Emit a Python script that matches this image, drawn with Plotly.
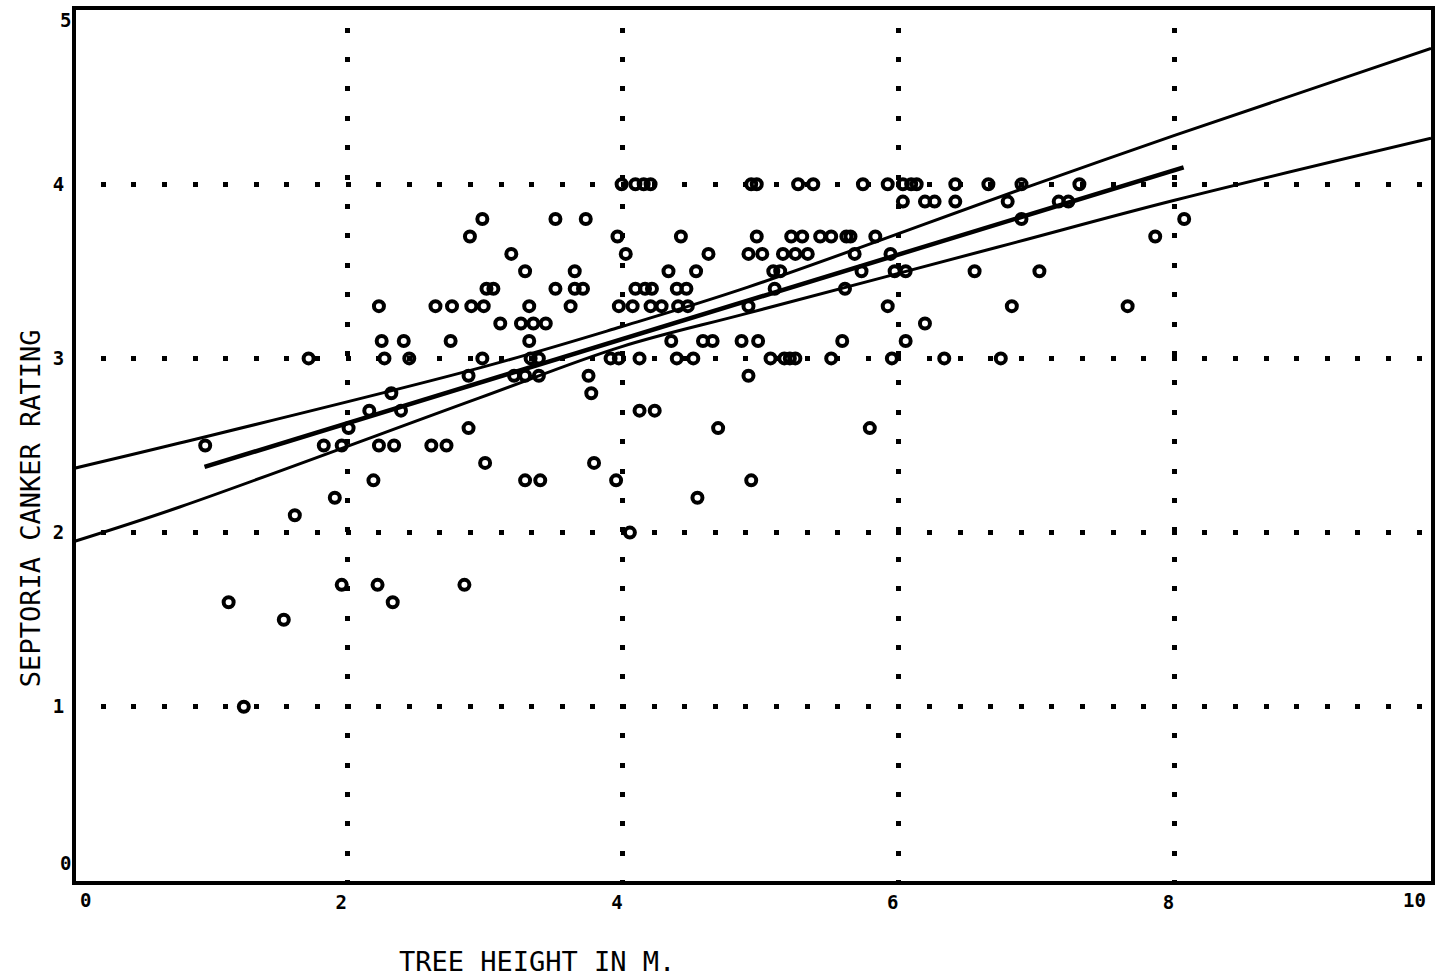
import plotly.graph_objects as go

# ---- data (tree height in m, grouped by canker rating) ----
h_40 = [3.99, 4.09, 4.15, 4.20, 4.93, 4.97, 5.27, 5.38, 5.74, 5.92, 6.03, 6.09, 6.13, 6.41, 6.65, 6.89, 7.31]
h_39 = [6.03, 6.19, 6.26, 6.41, 6.79, 7.16, 7.23]
h_38 = [2.98, 3.51, 3.73, 6.89, 8.07]
h_37 = [2.89, 3.96, 4.42, 4.97, 5.22, 5.30, 5.43, 5.51, 5.62, 5.65, 5.83, 7.86]
h_36 = [3.19, 4.02, 4.62, 4.91, 5.01, 5.16, 5.25, 5.34, 5.68, 5.94]
h_35 = [3.29, 3.65, 4.33, 4.53, 5.09, 5.14, 5.73, 5.97, 6.05, 6.55, 7.02]
h_34 = [3.01, 3.06, 3.51, 3.65, 3.71, 4.09, 4.16, 4.21, 4.39, 4.46, 5.10, 5.61]
h_33 = [2.23, 2.64, 2.76, 2.90, 2.99, 3.32, 3.62, 3.97, 4.07, 4.20, 4.28, 4.40, 4.47, 4.91, 5.92, 6.82, 7.66]
h_32 = [3.11, 3.26, 3.35, 3.44, 6.19]
h_31 = [2.25, 2.41, 2.75, 3.32, 4.35, 4.58, 4.65, 4.86, 4.98, 5.59, 6.05]
h_30 = [1.72, 2.27, 2.45, 2.98, 3.33, 3.39, 3.91, 3.97, 4.12, 4.39, 4.51, 5.07, 5.17, 5.21, 5.25, 5.51, 5.95, 6.33, 6.74]
h_29 = [2.88, 3.21, 3.29, 3.39, 3.75, 4.91]
h_28 = [2.32, 3.77]
h_27 = [2.16, 2.39, 4.12, 4.23]
h_26 = [2.01, 2.88, 4.69, 5.79]
h_25 = [0.97, 1.83, 1.96, 2.23, 2.34, 2.61, 2.72]
h_24 = [3.00, 3.79]
h_23 = [2.19, 3.29, 3.40, 3.95, 4.93]
h_22 = [1.91, 4.54]
h_21 = [1.62]
h_20 = [4.05]
h_17 = [1.96, 2.22, 2.85]
h_16 = [1.14, 2.33]
h_15 = [1.54]
h_10 = [1.25]

rows = [
    (4.0, h_40), (3.9, h_39), (3.8, h_38), (3.7, h_37), (3.6, h_36), (3.5, h_35),
    (3.4, h_34), (3.3, h_33), (3.2, h_32), (3.1, h_31), (3.0, h_30), (2.9, h_29),
    (2.8, h_28), (2.7, h_27), (2.6, h_26), (2.5, h_25), (2.4, h_24), (2.3, h_23),
    (2.2, h_22), (2.1, h_21), (2.0, h_20), (1.7, h_17), (1.6, h_16), (1.5, h_15),
    (1.0, h_10),
]

# regression line and confidence band
reg_x = [0.965, 8.066]
reg_y = [2.377, 4.097]
upper_x = [0.03, 0.785, 2.954, 3.98, 4.906, 6.93, 8.0, 9.86]
upper_y = [2.371, 2.514, 2.944, 3.18, 3.409, 3.983, 4.28, 4.78]
lower_x = [0.03, 0.785, 2.954, 3.98, 4.906, 6.714, 8.0, 9.86]
lower_y = [1.952, 2.147, 2.772, 3.065, 3.26, 3.638, 3.908, 4.264]

x_ticks = [2, 4, 6, 8]
y_ticks = [1, 2, 3, 4]

heights = [h for r, hs in rows for h in hs]
ratings = [r for r, hs in rows for h in hs]

MONO = "DejaVu Sans Mono"
TICKFONT = dict(family=MONO, size=19, color="black", weight="bold")

fig = go.Figure()
fig.add_trace(go.Scatter(
    x=heights, y=ratings, mode="markers",
    marker=dict(symbol="circle-open", size=10, color="black",
                line=dict(width=4, color="black")),
    hoverinfo="x+y",
))
fig.add_trace(go.Scatter(x=upper_x, y=upper_y, mode="lines",
                         line=dict(color="black", width=3, shape="spline")))
fig.add_trace(go.Scatter(x=lower_x, y=lower_y, mode="lines",
                         line=dict(color="black", width=3, shape="spline")))
fig.add_trace(go.Scatter(x=reg_x, y=reg_y, mode="lines",
                         line=dict(color="black", width=4.5)))

def edge_label(text, x, y):
    return dict(text=text, xref="paper", yref="paper", x=x, y=y,
                xanchor="center", yanchor="middle", showarrow=False, font=TICKFONT)

fig.update_layout(
    width=1437, height=979,
    margin=dict(l=76, r=2, t=10, b=98),
    plot_bgcolor="white", paper_bgcolor="white",
    showlegend=False,
    xaxis=dict(
        range=[0.033, 9.86], tickmode="array", tickvals=x_ticks,
        ticktext=[str(v) for v in x_ticks],
        showgrid=True, gridcolor="black", gridwidth=5,
        griddash="0px,17.5px,5px,6.9px",
        zeroline=False, showline=True, linewidth=4, linecolor="black", mirror=True,
        ticks="", ticklabelstandoff=1, ticklabelshift=-6,
        tickfont=TICKFONT,
    ),
    yaxis=dict(
        range=[0, 5], tickmode="array", tickvals=[0, 1, 2, 3, 4, 5],
        ticktext=["", "1", "2", "3", "4", ""],
        showgrid=True, gridcolor="black", gridwidth=5,
        griddash="0px,24.8px,5px,0.8px",
        zeroline=False, showline=True, linewidth=4, linecolor="black", mirror=True,
        ticks="", ticklabelstandoff=4,
        tickfont=TICKFONT,
    ),
    annotations=[
        edge_label("0", (86 - 76) / 1359, -(900 - 881) / 871),
        edge_label("10", (1418 - 76) / 1359, -(900 - 881) / 871),
        edge_label("5", (65 - 76) / 1359, (881 - 20) / 871),
        edge_label("0", (65 - 76) / 1359, (881 - 863) / 871),
        dict(text="TREE HEIGHT IN M.", xref="paper", yref="paper",
             x=(538 - 76) / 1359, y=-(961 - 881) / 871,
             xanchor="center", yanchor="middle", showarrow=False,
             font=dict(family=MONO, size=27, color="black")),
        dict(text="SEPTORIA CANKER RATING", xref="paper", yref="paper",
             x=-(76 - 30) / 1359, y=(881 - 508) / 871, textangle=-90,
             xanchor="center", yanchor="middle", showarrow=False,
             font=dict(family=MONO, size=27, color="black")),
    ],
)

fig.write_html("out.html", config={"displayModeBar": False},
               post_script="document.body.style.margin='0';")
